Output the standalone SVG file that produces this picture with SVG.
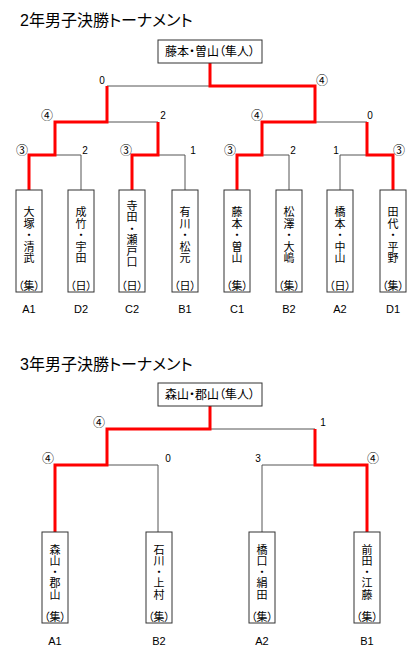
<svg xmlns="http://www.w3.org/2000/svg" width="420" height="653" viewBox="0 0 420 653">
<style>
text{font-family:"Liberation Sans","Noto Sans CJK JP",sans-serif;fill:#000;font-feature-settings:"palt"}
.title{font-size:16px}
.champ{font-size:12px;text-anchor:middle}
.sc{font-size:10px;text-anchor:middle}
.ci{font-size:12px;text-anchor:middle;font-family:"Noto Sans CJK JP",sans-serif}
.nm{font-size:11px;text-anchor:middle}
.lb{font-size:11px;text-anchor:middle}
.box{fill:#fff;stroke:#333;stroke-width:1}
.g{fill:none;stroke:#555;stroke-width:1}
.r{fill:none;stroke:#ff0000;stroke-width:3;stroke-linejoin:miter}
</style>
<rect width="420" height="653" fill="#fff"/>

<!-- ===== 2年 ===== -->
<text class="title" x="20" y="26">2年男子決勝トーナメント</text>

<g id="connectors-2nen">
  <path class="g" d="M107,86 H315"/>
  <path class="g" d="M55,122 H158"/>
  <path class="g" d="M262,122 H367"/>
  <path class="g" d="M29,155 H81 V190"/>
  <path class="g" d="M132,155 H185 V190"/>
  <path class="g" d="M237,155 H289 V190"/>
  <path class="g" d="M340,190 V155 H393"/>
  <path class="r" d="M210,63 V86 H315 V122 H262 V155 H237 V190"/>
  <path class="r" d="M107,86 V122 H55 V155 H29 V190"/>
  <path class="r" d="M158,122 V155 H132 V190"/>
  <path class="r" d="M367,122 V155 H393 V190"/>
</g>

<g id="scores-2nen">
  <text class="sc" x="102" y="84">0</text>
  <text class="ci" x="322" y="85">④</text>
  <text class="ci" x="47" y="120">④</text>
  <text class="sc" x="163" y="119">2</text>
  <text class="ci" x="257" y="120">④</text>
  <text class="sc" x="370" y="119">0</text>
  <text class="ci" x="22" y="155">③</text>
  <text class="sc" x="85" y="154">2</text>
  <text class="ci" x="126" y="155">③</text>
  <text class="sc" x="193" y="154">1</text>
  <text class="ci" x="230" y="155">③</text>
  <text class="sc" x="293" y="154">2</text>
  <text class="sc" x="336" y="154">1</text>
  <text class="ci" x="399" y="155">③</text>
</g>

<g id="champ-2nen">
  <rect class="box" x="158" y="40" width="104" height="23"/>
  <text class="champ" x="210" y="56">藤本・曽山（隼人）</text>
</g>

<g id="n2-A1">
  <rect class="box" x="16" y="190" width="26" height="102"/>
  <text class="nm" x="29" y="216">大</text><text class="nm" x="29" y="228">塚</text><text class="nm" x="29" y="239">・</text><text class="nm" x="29" y="251">清</text><text class="nm" x="29" y="262">武</text>
  <text class="nm" x="29" y="290">（集）</text>
  <text class="lb" x="29" y="313">A1</text>
</g>
<g id="n2-D2">
  <rect class="box" x="68" y="190" width="26" height="102"/>
  <text class="nm" x="81" y="216">成</text><text class="nm" x="81" y="228">竹</text><text class="nm" x="81" y="239">・</text><text class="nm" x="81" y="251">宇</text><text class="nm" x="81" y="262">田</text>
  <text class="nm" x="81" y="290">（日）</text>
  <text class="lb" x="81" y="313">D2</text>
</g>
<g id="n2-C2">
  <rect class="box" x="119" y="190" width="26" height="102"/>
  <text class="nm" x="132" y="210">寺</text><text class="nm" x="132" y="221">田</text><text class="nm" x="132" y="233">・</text><text class="nm" x="132" y="244">瀬</text><text class="nm" x="132" y="255">戸</text><text class="nm" x="132" y="266">口</text>
  <text class="nm" x="132" y="290">（日）</text>
  <text class="lb" x="132" y="313">C2</text>
</g>
<g id="n2-B1">
  <rect class="box" x="172" y="190" width="26" height="102"/>
  <text class="nm" x="185" y="216">有</text><text class="nm" x="185" y="228">川</text><text class="nm" x="185" y="239">・</text><text class="nm" x="185" y="251">松</text><text class="nm" x="185" y="262">元</text>
  <text class="nm" x="185" y="290">（日）</text>
  <text class="lb" x="185" y="313">B1</text>
</g>
<g id="n2-C1">
  <rect class="box" x="224" y="190" width="26" height="102"/>
  <text class="nm" x="237" y="216">藤</text><text class="nm" x="237" y="228">本</text><text class="nm" x="237" y="239">・</text><text class="nm" x="237" y="251">曽</text><text class="nm" x="237" y="262">山</text>
  <text class="nm" x="237" y="290">（集）</text>
  <text class="lb" x="237" y="313">C1</text>
</g>
<g id="n2-B2">
  <rect class="box" x="276" y="190" width="26" height="102"/>
  <text class="nm" x="289" y="216">松</text><text class="nm" x="289" y="228">澤</text><text class="nm" x="289" y="239">・</text><text class="nm" x="289" y="251">大</text><text class="nm" x="289" y="262">嶋</text>
  <text class="nm" x="289" y="290">（集）</text>
  <text class="lb" x="289" y="313">B2</text>
</g>
<g id="n2-A2">
  <rect class="box" x="327" y="190" width="26" height="102"/>
  <text class="nm" x="340" y="216">橋</text><text class="nm" x="340" y="228">本</text><text class="nm" x="340" y="239">・</text><text class="nm" x="340" y="251">中</text><text class="nm" x="340" y="262">山</text>
  <text class="nm" x="340" y="290">（日）</text>
  <text class="lb" x="340" y="313">A2</text>
</g>
<g id="n2-D1">
  <rect class="box" x="380" y="190" width="26" height="102"/>
  <text class="nm" x="393" y="216">田</text><text class="nm" x="393" y="228">代</text><text class="nm" x="393" y="239">・</text><text class="nm" x="393" y="251">平</text><text class="nm" x="393" y="262">野</text>
  <text class="nm" x="393" y="290">（集）</text>
  <text class="lb" x="393" y="313">D1</text>
</g>

<!-- ===== 3年 ===== -->
<text class="title" x="20" y="370">3年男子決勝トーナメント</text>

<g id="connectors-3nen">
  <path class="g" d="M107,429 H315"/>
  <path class="g" d="M55,465 H158 V532"/>
  <path class="g" d="M262,532 V465 H367"/>
  <path class="r" d="M210,406 V429 H107 V465 H55 V532"/>
  <path class="r" d="M315,429 V465 H367 V532"/>
</g>

<g id="scores-3nen">
  <text class="ci" x="99" y="427">④</text>
  <text class="sc" x="323" y="426">1</text>
  <text class="ci" x="48" y="463">④</text>
  <text class="sc" x="168" y="462">0</text>
  <text class="sc" x="258" y="462">3</text>
  <text class="ci" x="373" y="463">④</text>
</g>

<g id="champ-3nen">
  <rect class="box" x="158" y="383" width="104" height="23"/>
  <text class="champ" x="210" y="399">森山・郡山（隼人）</text>
</g>

<g id="n3-A1">
  <rect class="box" x="42" y="532" width="26" height="91"/>
  <text class="nm" x="55" y="554">森</text><text class="nm" x="55" y="565">山</text><text class="nm" x="55" y="576">・</text><text class="nm" x="55" y="587">郡</text><text class="nm" x="55" y="599">山</text>
  <text class="nm" x="55" y="621">（集）</text>
  <text class="lb" x="55" y="645">A1</text>
</g>
<g id="n3-B2">
  <rect class="box" x="146" y="532" width="26" height="91"/>
  <text class="nm" x="159" y="554">石</text><text class="nm" x="159" y="565">川</text><text class="nm" x="159" y="576">・</text><text class="nm" x="159" y="587">上</text><text class="nm" x="159" y="599">村</text>
  <text class="nm" x="159" y="621">（集）</text>
  <text class="lb" x="159" y="645">B2</text>
</g>
<g id="n3-A2">
  <rect class="box" x="249" y="532" width="26" height="91"/>
  <text class="nm" x="262" y="554">橋</text><text class="nm" x="262" y="565">口</text><text class="nm" x="262" y="576">・</text><text class="nm" x="262" y="587">絹</text><text class="nm" x="262" y="599">田</text>
  <text class="nm" x="262" y="621">（集）</text>
  <text class="lb" x="262" y="645">A2</text>
</g>
<g id="n3-B1">
  <rect class="box" x="354" y="532" width="26" height="91"/>
  <text class="nm" x="367" y="554">前</text><text class="nm" x="367" y="565">田</text><text class="nm" x="367" y="576">・</text><text class="nm" x="367" y="587">江</text><text class="nm" x="367" y="599">藤</text>
  <text class="nm" x="367" y="621">（集）</text>
  <text class="lb" x="367" y="645">B1</text>
</g>
</svg>
